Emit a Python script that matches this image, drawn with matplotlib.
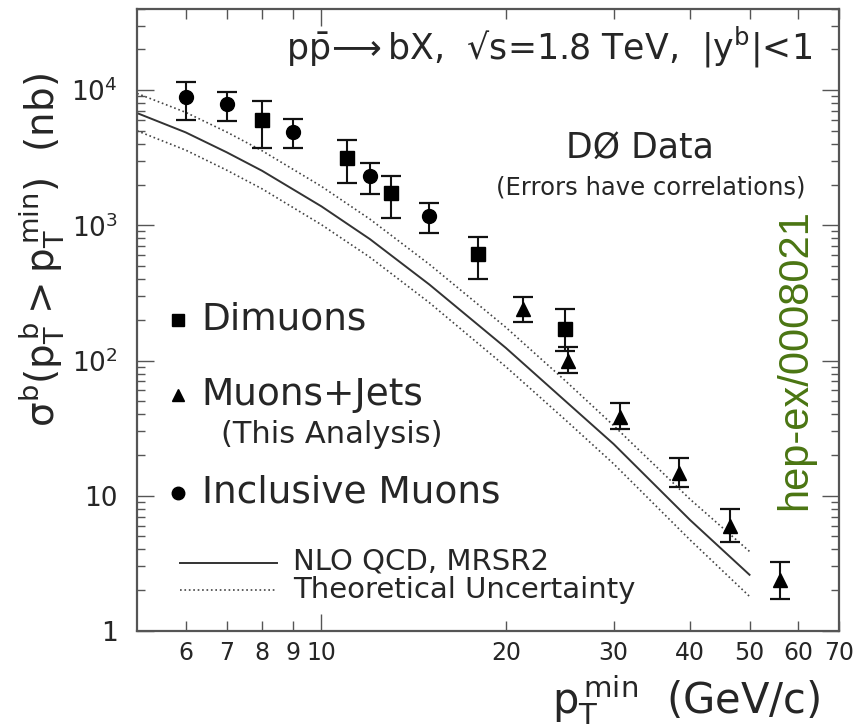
import matplotlib
matplotlib.use("Agg")
import matplotlib.pyplot as plt

# --- values (log-log) -------------------------------------------------------
INCL_X = [6, 7, 9, 12, 15]
INCL_Y = [8830, 7870, 4860, 2300, 1170]
INCL_HI = [11500, 9720, 6100, 2880, 1470]
INCL_LO = [6030, 5890, 3700, 1710, 883]

DIMU_X = [8, 11, 13, 18, 25]
DIMU_Y = [5990, 3120, 1730, 610, 172]
DIMU_HI = [8250, 4240, 2320, 824, 239]
DIMU_LO = [3720, 2050, 1130, 403, 118]

MUJ_X = [21.3, 25.3, 30.7, 38.3, 46.5, 56.0]
MUJ_Y = [239, 99, 38.3, 14.7, 5.93, 2.39]
MUJ_HI = [297, 125, 48.6, 18.9, 7.97, 3.26]
MUJ_LO = [192, 81, 31.2, 11.6, 4.51, 1.72]

TH_X = [5, 6, 7, 8, 10, 12, 15, 20, 25, 30, 40, 50]
NLO = [6760, 4870, 3470, 2530, 1380, 790, 365, 124, 50.3, 24.1, 6.6, 2.6]
TH_UP = [9450, 6850, 4900, 3560, 1940, 1110, 515, 176, 71, 33, 9.4, 3.87]
TH_DN = [5000, 3600, 2560, 1860, 1010, 580, 268, 90, 36.5, 17.2, 4.7, 1.80]

X_MINOR = [6, 7, 8, 9, 20, 30, 40, 50, 60, 70]
Y_MAJOR = [1, 10, 100, 1000, 10000]
Y_LABELS = ["1", "10", r"$10^2$", r"$10^3$", r"$10^4$"]

INK = "#262626"
GREEN = "#4a7512"


def errs(y, hi, lo):
    return [[a - b for a, b in zip(y, lo)], [h - a for a, h in zip(y, hi)]]


fig = plt.figure(figsize=(8.57, 7.26), dpi=100)
ax = fig.add_axes([0.160, 0.131, 0.819, 0.857])
ax.set_xscale("log")
ax.set_yscale("log")
ax.set_xlim(5, 70)
ax.set_ylim(1, 4.0e4)

# theory curves
ax.plot(TH_X, NLO, "-", color="#333333", lw=1.4)
ax.plot(TH_X, TH_UP, ":", color="#444444", lw=1.2)
ax.plot(TH_X, TH_DN, ":", color="#444444", lw=1.2)

ebkw = dict(ls="none", color="black", ecolor="#111111", elinewidth=1.5,
            capsize=7, capthick=1.6, zorder=3)
ax.errorbar(INCL_X, INCL_Y, yerr=errs(INCL_Y, INCL_HI, INCL_LO), fmt="o",
            markersize=10, **ebkw)
ax.errorbar(DIMU_X, DIMU_Y, yerr=errs(DIMU_Y, DIMU_HI, DIMU_LO), fmt="s",
            markersize=10, **ebkw)
ax.errorbar(MUJ_X, MUJ_Y, yerr=errs(MUJ_Y, MUJ_HI, MUJ_LO), fmt="^",
            markersize=10, **ebkw)

# ticks
ax.set_xticks([10])
ax.set_xticklabels(["10"])
ax.set_xticks(X_MINOR, minor=True)
ax.set_xticklabels([str(v) for v in X_MINOR], minor=True)
ax.set_yticks(Y_MAJOR)
ax.set_yticklabels(Y_LABELS)
ax.tick_params(which="both", direction="in", top=True, right=True,
               colors="#555555", labelcolor=INK, width=1.0)
ax.tick_params(axis="x", which="major", length=12, pad=7, labelsize=17)
ax.tick_params(axis="x", which="minor", length=7, pad=7, labelsize=17)
ax.tick_params(axis="y", which="major", length=12, pad=14, labelsize=19)
ax.tick_params(axis="y", which="minor", length=6)
for s in ax.spines.values():
    s.set_color("#555555")
    s.set_linewidth(1.6)

# axis labels
fig.text(0.048, 0.655, r"$\mathrm{\sigma^b(p_T^{\,b}>p_T^{\,min})}$  (nb)",
         rotation=90, ha="center", va="center", fontsize=28, color=INK)
fig.text(0.957, 0.036, r"$\mathrm{p_T^{\,min}}$  (GeV/c)", ha="right",
         va="center", fontsize=30, color=INK)

# annotations
ax.text(0.587, 0.938,
        r"$\mathrm{p\bar{p}}\!\longrightarrow$bX,  √s=1.8 TeV,  |y$^\mathrm{b}$|<1",
        transform=ax.transAxes, ha="center", va="center", fontsize=25, color=INK)
ax.text(0.716, 0.777, "DØ Data", transform=ax.transAxes, ha="center",
        va="center", fontsize=25, color=INK)
ax.text(0.732, 0.713, "(Errors have correlations)", transform=ax.transAxes,
        ha="center", va="center", fontsize=17.5, color=INK)
ax.text(0.937, 0.436, "hep-ex/0008021", transform=ax.transAxes, rotation=90,
        ha="center", va="center", fontsize=30, color=GREEN,
        family="Liberation Sans")

# hand-drawn style legend
ax.plot([0.058], [0.500], "s", color="black", markersize=9, transform=ax.transAxes)
ax.plot([0.058], [0.379], "^", color="black", markersize=9, transform=ax.transAxes)
ax.plot([0.058], [0.222], "o", color="black", markersize=9, transform=ax.transAxes)
ax.text(0.092, 0.500, "Dimuons", transform=ax.transAxes, va="center",
        fontsize=27, color=INK)
ax.text(0.092, 0.379, "Muons+Jets", transform=ax.transAxes, va="center",
        fontsize=27, color=INK)
ax.text(0.119, 0.316, "(This Analysis)", transform=ax.transAxes, va="center",
        fontsize=22, color=INK)
ax.text(0.092, 0.222, "Inclusive Muons", transform=ax.transAxes, va="center",
        fontsize=27, color=INK)
ax.plot([0.061, 0.199], [0.109, 0.109], "-", color="#333333", lw=1.4,
        transform=ax.transAxes)
ax.plot([0.061, 0.199], [0.066, 0.066], ":", color="#444444", lw=1.2,
        transform=ax.transAxes)
ax.text(0.222, 0.111, "NLO QCD, MRSR2", transform=ax.transAxes, va="center",
        fontsize=21, color=INK)
ax.text(0.222, 0.066, "Theoretical Uncertainty", transform=ax.transAxes,
        va="center", fontsize=21, color=INK)

fig.savefig("out.png", dpi=100, facecolor="white")
